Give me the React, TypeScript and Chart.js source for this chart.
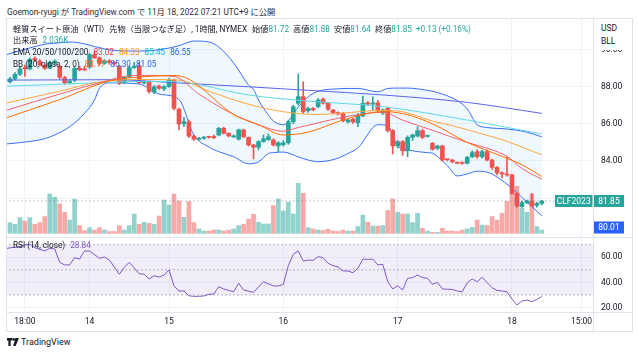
import React, { useEffect, useRef } from "react";
import { Chart, registerables } from "chart.js";

Chart.register(...registerables);

// ---------------- DATA ----------------
const opens = [88.25,88.41,88.66,89.02,88.95,89.52,89.37,89.16,88.98,89.28,
 89.10,88.48,88.21,88.35,88.98,88.95,89.05,89.72,89.55,89.25,
 89.38,89.30,89.10,88.21,88.52,89.02,89.12,88.20,88.26,87.70,
 88.03,87.88,88.00,88.35,86.78,85.99,86.11,85.34,85.17,85.22,
 85.28,85.32,85.40,85.76,85.49,85.30,85.18,85.67,85.27,84.86,
 84.74,85.04,85.15,85.13,84.81,84.88,84.98,86.11,87.10,87.46,
 86.70,86.82,86.92,87.32,87.10,86.74,86.60,86.56,86.10,86.24,
 86.06,86.42,87.13,87.06,87.12,86.58,86.83,85.63,84.81,85.04,
 84.55,85.27,85.34,85.63,85.32,84.95,84.68,84.81,84.10,84.05,
 83.93,83.90,83.88,84.23,84.50,84.23,84.50,84.05,83.66,83.37,
 83.30,83.25,82.26,81.54,81.76,81.83,81.62,81.72];
const highs = [88.50,88.75,89.05,89.15,89.55,89.60,89.45,89.22,89.38,89.45,
 89.15,88.55,88.40,89.05,89.10,89.10,89.80,89.90,89.60,89.45,
 89.45,89.35,89.15,88.55,89.10,89.30,89.30,88.32,88.30,88.05,
 88.08,88.05,88.45,88.40,86.85,86.35,86.20,85.40,85.27,85.33,
 85.33,85.40,85.80,85.82,85.52,85.40,85.72,85.72,85.30,84.90,
 85.10,85.40,85.45,85.20,85.05,85.10,86.20,87.00,88.68,88.26,
 86.90,86.88,87.35,87.40,87.15,86.78,86.65,86.60,86.25,86.30,
 86.55,87.49,87.20,87.45,87.25,86.80,86.90,85.70,85.10,85.10,
 85.35,85.45,85.84,85.70,85.40,85.00,84.85,84.85,84.12,84.10,
 83.95,83.95,84.25,84.55,84.60,84.58,84.60,84.10,83.70,83.42,
 84.23,83.30,82.30,81.85,81.90,82.26,81.78,81.88];
const lows = [88.20,88.36,88.60,88.55,88.90,89.35,89.10,88.92,88.95,89.15,
 88.40,88.12,88.15,88.25,88.85,88.85,88.98,89.50,89.15,89.20,
 89.20,89.15,88.10,88.15,88.48,88.98,88.15,88.15,87.65,87.62,
 87.85,87.78,87.95,86.75,85.67,85.85,85.25,85.10,85.12,85.18,
 85.22,85.20,85.35,85.45,85.30,85.25,85.12,85.25,84.80,84.11,
 84.60,85.00,85.10,84.80,84.50,84.80,84.90,86.00,87.00,86.55,
 86.62,86.70,86.85,87.05,86.72,86.55,86.48,86.10,86.05,86.02,
 85.84,86.38,87.00,86.75,86.65,86.50,85.55,84.38,84.70,84.30,
 84.23,85.10,85.30,85.20,85.28,84.58,84.62,84.00,84.00,83.90,
 83.85,83.82,83.84,84.18,84.15,84.15,84.00,83.55,83.25,83.10,
 83.18,82.20,81.52,81.50,81.70,81.55,81.52,81.64];
const closes = [88.41,88.66,88.95,88.95,89.47,89.43,89.16,88.98,89.30,89.36,
 88.50,88.21,88.30,88.98,88.90,88.90,89.72,89.55,89.25,89.38,
 89.30,89.22,88.18,88.50,89.02,89.10,88.21,88.26,87.73,87.99,
 87.91,88.00,88.35,86.83,85.99,86.11,85.34,85.17,85.22,85.28,
 85.27,85.25,85.76,85.49,85.35,85.34,85.67,85.31,84.86,84.74,
 85.04,85.20,85.31,84.86,84.98,84.98,86.11,86.92,87.46,86.65,
 86.83,86.75,87.28,87.10,86.78,86.60,86.53,86.17,86.20,86.10,
 86.47,87.10,87.06,87.12,86.74,86.74,85.63,84.81,85.04,84.55,
 85.27,85.40,85.63,85.27,85.34,84.63,84.81,84.05,84.07,83.96,
 83.88,83.88,84.20,84.45,84.23,84.50,84.05,83.66,83.37,83.30,
 83.25,82.26,81.58,81.76,81.85,81.58,81.72,81.85];
// volume in thousands
const volumes = [6.6,5.6,9.7,7.6,9.7,5.6,6.6,10.4,24.4,22.3,
 18.2,13.0,8.2,21.1,4.8,1.7,3.5,2.0,3.5,2.0,
 1.1,1.1,4.8,2.0,4.8,12.0,5.6,6.8,6.2,5.6,
 10.7,20.6,17.5,24.4,20.0,9.9,19.7,6.6,2.7,1.4,
 1.4,2.0,2.0,1.4,2.0,2.7,4.8,5.6,8.9,11.8,
 6.8,5.8,5.8,17.2,21.3,13.8,19.2,12.0,31.0,24.8,
 3.5,2.7,2.0,1.7,2.5,1.4,1.1,2.0,1.4,1.4,
 4.2,11.3,6.8,4.5,4.5,4.8,14.1,21.3,13.0,12.0,
 12.0,6.6,12.4,3.1,1.4,0.6,0.6,3.1,1.4,1.4,
 1.1,2.0,2.7,3.7,8.2,5.1,4.8,10.4,8.2,12.4,
 19.8,24.8,29.1,15.5,13.0,24.2,4.2,2.036];

const bbIdx = [-1,4,7,9,12,15,17,18,20,26,30,34,37,40,42,45,48,49,50,52,53,55,58,60,62,66,68,70,74,76,78,80,84,85,87,88,90,92,94,96,100,104,107];
const bbUpper = [89.70,90.08,90.28,90.33,90.40,90.30,90.15,90.10,89.97,89.91,89.98,90.20,90.45,90.40,90.13,89.27,88.09,87.85,87.28,86.47,86.15,85.95,86.90,87.45,87.75,87.88,87.90,87.90,87.72,87.90,87.92,87.92,87.80,87.75,87.60,87.50,87.25,86.80,85.95,85.80,85.72,85.55,85.30];
const bbLower = [84.91,85.05,85.20,85.40,85.84,86.56,87.28,87.90,88.20,88.14,87.60,87.30,85.40,84.75,84.50,84.23,83.85,83.87,83.95,84.40,84.45,84.48,84.22,84.05,83.96,84.15,84.40,84.70,85.95,85.90,84.80,84.60,84.45,84.42,84.00,83.75,83.20,83.30,83.45,83.40,82.75,81.80,81.05];
const bbBasisIdx = [-1,10,20,28,33,36,45,50,55,60,67,75,79,85,92,99,103,107];
const bbBasis = [86.30,87.30,88.30,88.55,88.60,88.40,86.50,85.95,85.40,85.55,86.20,86.65,86.55,86.00,85.00,84.25,83.80,83.17];

const ema20Idx = [-1,10,18,25,33,38,45,50,55,58,62,67,75,79,85,92,97,100,103,107];
const ema20 = [86.70,87.60,88.20,88.60,88.55,87.60,86.50,85.95,85.60,85.80,86.05,86.35,86.62,86.20,85.65,85.00,84.60,84.25,83.60,83.02];
const ema50Idx = [-1,10,18,28,34,40,48,55,62,75,79,85,89,95,99,103,107];
const ema50 = [87.10,87.75,88.25,88.38,88.35,87.75,87.05,86.65,86.50,86.72,86.65,86.15,85.90,85.45,85.15,84.75,84.33];
const ema100Idx = [-1,15,28,34,48,60,75,92,107];
const ema100 = [88.02,88.18,88.28,88.25,87.55,87.22,86.92,86.20,85.45];
const ema200Idx = [-1,20,35,48,60,75,92,107];
const ema200 = [88.35,88.37,88.18,87.99,87.80,87.55,87.15,86.56];

const rsiIdx = [-1,0,2,3,4,5,7,8,9,10,11,12,13,14,15,16,18,19,20,22,23,24,26,27,28,29,30,31,32,33,34,35,36,37,38,39,40,41,42,43,45,46,47,49,51,53,54,55,56,57,58,59,60,61,62,63,64,65,66,67,68,69,70,71,72,73,74,75,76,77,78,79,80,81,82,83,84,85,86,87,88,89,90,91,92,93,94,95,96,97,98,99,100,101,102,103,104,105,106,107];
const rsiVal = [66.8,67.5,68.4,69.8,70.5,67.6,65.0,67.1,66.6,56.0,53.9,53.9,59.7,58.6,65.0,65.0,59.2,60.2,57.8,46.5,52.0,56.0,46.9,46.5,42.7,45.3,44.3,45.9,49.9,37.2,33.2,33.2,29.4,28.9,29.0,29.2,30.5,30.8,36.6,34.8,32.6,39.3,34.0,32.1,40.6,37.2,37.2,38.5,53.3,62.4,65.0,57.0,57.8,57.5,60.5,59.7,55.2,53.3,52.5,49.1,49.1,47.7,51.2,58.6,58.3,58.6,53.9,54.4,40.6,34.8,37.4,34.0,43.3,43.8,45.9,43.8,43.3,38.5,40.1,34.8,34.6,34.4,33.2,32.6,39.8,42.7,40.6,44.1,39.8,35.8,33.6,33.2,32.6,26.8,22.1,25.2,26.0,24.7,26.5,28.84];
const rsiBands = [70, 50, 30];

const timeTickIdx = [3, 16, 32, 55, 78, 101, 115];
const timeTickLabels = ["18:00", "14", "15", "16", "17", "18", "15:00"];
const priceTicks = [82, 84, 86, 88, 90];
const priceTickLabels = ["", "84.00", "86.00", "88.00", "90.00"];
const rsiTicks = [20, 40, 60];
const symbolLabel = "CLF2023";
const blueLabelValue = 80.01;

// ---------------- layout constants ----------------
const X_MIN = -0.604, X_MAX = 117.304;
const P_MIN = 79.914, P_MAX = 91.634;
const V_MIN = -2.29, V_MAX = 132.87;
const R_MIN = 16.48, R_MAX = 76.12;
const FONT = "Roboto, 'Noto Sans CJK JP', sans-serif";
const GRID = "#f0f3fa";
const UP = "#26a69a", DOWN = "#ef5350";
const TXT = "#131722";

const lineDs = (idx: number[], vals: number[], color: string, extra: any = {}) => ({
  type: "line",
  data: idx.map((x, k) => ({ x, y: vals[k] })),
  borderColor: color,
  borderWidth: 1,
  pointRadius: 0,
  fill: false,
  cubicInterpolationMode: "monotone",
  order: 1,
  ...extra,
});

const priceLabelPlugin = {
  id: "priceLabels",
  afterDraw(chart: any) {
    const { ctx, chartArea, scales } = chart;
    const ys = scales.y;
    const last = closes[closes.length - 1];
    const yy = ys.getPixelForValue(last);
    const axL = chartArea.right;
    ctx.save();
    ctx.font = "8.5px Roboto";
    ctx.textBaseline = "middle";
    ctx.textAlign = "center";
    ctx.fillStyle = UP;
    ctx.fillRect(axL - 38, yy - 6, 37.5, 12);
    ctx.fillRect(axL + 1, yy - 6, 30, 12);
    ctx.fillStyle = "#ffffff";
    ctx.fillText(symbolLabel, axL - 19.3, yy + 0.5);
    ctx.fillText(last.toFixed(2), axL + 16, yy + 0.5);
    const by = Math.min(ys.getPixelForValue(blueLabelValue), chartArea.bottom - 9.5);
    ctx.fillStyle = "#2962ff";
    ctx.fillRect(axL + 1, by - 6, 30, 12);
    ctx.fillStyle = "#ffffff";
    ctx.fillText(blueLabelValue.toFixed(2), axL + 16, by + 0.5);
    ctx.restore();
  },
};

function mainConfig(): any {
  const idx = opens.map((_, i) => i);
  const up = (i: number) => closes[i] >= opens[i];
  const last = closes[closes.length - 1];
  return {
    type: "bar",
    data: {
      datasets: [
        {
          type: "bar",
          yAxisID: "yVol",
          data: idx.map((i) => ({ x: i, y: volumes[i] })),
          backgroundColor: idx.map((i) => (up(i) ? "rgba(38,166,154,0.5)" : "rgba(239,83,80,0.5)")),
          barThickness: 4,
          grouped: false,
          borderWidth: 0,
          order: 20,
        },
        lineDs(bbIdx, bbUpper, "#3f6cf7", { fill: "+1", backgroundColor: "rgba(33,150,243,0.07)", order: 10 }),
        lineDs(bbIdx, bbLower, "#3f6cf7", { order: 10 }),
        lineDs(bbBasisIdx, bbBasis, "#ff6d00"),
        lineDs(ema20Idx, ema20, "#f5606b"),
        lineDs(ema50Idx, ema50, "#ffa53d"),
        lineDs(ema100Idx, ema100, "#5fd8e8"),
        lineDs(ema200Idx, ema200, "#5b62ee"),
        {
          type: "line",
          data: [{ x: -1, y: last }, { x: 118, y: last }],
          borderColor: "rgba(120,123,134,0.45)",
          borderWidth: 1,
          borderDash: [2, 2],
          pointRadius: 0,
          fill: false,
          order: 2,
        },
        {
          type: "bar",
          data: idx.map((i) => ({ x: i, y: [lows[i], highs[i]] })),
          backgroundColor: idx.map((i) => (up(i) ? UP : DOWN)),
          barThickness: 1,
          grouped: false,
          borderWidth: 0,
          order: 4,
        },
        {
          type: "bar",
          data: idx.map((i) => ({ x: i, y: [opens[i], closes[i]] })),
          backgroundColor: idx.map((i) => (up(i) ? UP : DOWN)),
          barThickness: 4,
          minBarLength: 1,
          grouped: false,
          borderWidth: 0,
          order: 3,
        },
      ],
    },
    options: {
      responsive: false,
      animation: false,
      devicePixelRatio: 1,
      events: [],
      layout: { padding: 0 },
      plugins: { legend: { display: false }, tooltip: { enabled: false } },
      scales: {
        x: {
          type: "linear",
          min: X_MIN,
          max: X_MAX,
          offset: false,
          afterBuildTicks: (s: any) => { s.ticks = timeTickIdx.map((v) => ({ value: v })); },
          afterFit: (s: any) => { s.height = 0; s.paddingLeft = 0; s.paddingRight = 0; },
          ticks: { display: false },
          grid: { color: GRID, drawTicks: false, offset: false },
          border: { display: false },
        },
        y: {
          type: "linear",
          position: "right",
          min: P_MIN,
          max: P_MAX,
          afterBuildTicks: (s: any) => { s.ticks = priceTicks.map((v) => ({ value: v })); },
          afterFit: (s: any) => { s.width = 39; s.paddingTop = 0; s.paddingBottom = 0; },
          ticks: {
            font: { family: "Roboto", size: 8.5 },
            color: TXT,
            padding: 8,
            crossAlign: "near",
            callback: (v: any) => {
              const k = priceTicks.indexOf(Number(v));
              return k >= 0 ? priceTickLabels[k] : "";
            },
          },
          grid: { color: GRID, drawTicks: false },
          border: { display: false },
        },
        yVol: { type: "linear", display: false, min: V_MIN, max: V_MAX },
      },
    },
    plugins: [priceLabelPlugin],
  };
}

function rsiConfig(): any {
  const bandDs = (v: number, extra: any = {}) => ({
    type: "line",
    data: [{ x: -1, y: v }, { x: 118, y: v }],
    borderColor: "rgba(120,123,134,0.55)",
    borderWidth: 1,
    borderDash: [2, 2],
    pointRadius: 0,
    fill: false,
    order: 5,
    ...extra,
  });
  return {
    type: "line",
    data: {
      datasets: [
        bandDs(rsiBands[0], { fill: "+2", backgroundColor: "rgba(126,87,194,0.1)" }),
        bandDs(rsiBands[1]),
        bandDs(rsiBands[2]),
        {
          type: "line",
          data: rsiIdx.map((x, k) => ({ x, y: rsiVal[k] })),
          borderColor: "#7e57c2",
          borderWidth: 1,
          pointRadius: 0,
          fill: false,
          order: 1,
        },
      ],
    },
    options: {
      responsive: false,
      animation: false,
      devicePixelRatio: 1,
      events: [],
      layout: { padding: 0 },
      plugins: { legend: { display: false }, tooltip: { enabled: false } },
      scales: {
        x: {
          type: "linear",
          min: X_MIN,
          max: X_MAX,
          offset: false,
          afterBuildTicks: (s: any) => { s.ticks = timeTickIdx.map((v) => ({ value: v })); },
          afterFit: (s: any) => { s.height = 19; s.paddingLeft = 0; s.paddingRight = 0; },
          ticks: {
            font: { family: "Roboto", size: 8.5 },
            color: TXT,
            padding: 5,
            autoSkip: false,
            maxRotation: 0,
            callback: (v: any) => {
              const k = timeTickIdx.indexOf(Number(v));
              return k >= 0 ? timeTickLabels[k] : "";
            },
          },
          grid: { color: GRID, drawTicks: false, offset: false },
          border: { display: false },
        },
        y: {
          type: "linear",
          position: "right",
          min: R_MIN,
          max: R_MAX,
          afterBuildTicks: (s: any) => { s.ticks = rsiTicks.map((v) => ({ value: v })); },
          afterFit: (s: any) => { s.width = 39; s.paddingTop = 0; s.paddingBottom = 0; },
          ticks: {
            font: { family: "Roboto", size: 8.5 },
            color: TXT,
            padding: 8,
            crossAlign: "near",
            callback: (v: any) => Number(v).toFixed(2),
          },
          grid: { color: GRID, drawTicks: false },
          border: { display: false },
        },
      },
    },
  };
}

const V = ({ c, children, ml = 0 }: any) => <span style={{ color: c, marginLeft: ml }}>{children}</span>;

export default function App() {
  const mainRef = useRef<HTMLCanvasElement>(null);
  const rsiRef = useRef<HTMLCanvasElement>(null);

  useEffect(() => {
    const m = new Chart(mainRef.current as HTMLCanvasElement, mainConfig());
    const r = new Chart(rsiRef.current as HTMLCanvasElement, rsiConfig());
    return () => {
      m.destroy();
      r.destroy();
    };
  }, []);

  const line = (s: any) => <div style={{ position: "absolute", background: "#e0e3eb", ...s }} />;
  const G = UP;

  return (
    <div style={{ position: "fixed", left: 0, top: 0, width: 639, height: 356, background: "#fff", fontFamily: FONT, color: TXT, overflow: "hidden" }}>
      <div style={{ position: "absolute", left: 7, top: 5.5, fontSize: 8.3, lineHeight: "12px", whiteSpace: "nowrap", color: "#2a2e39" }}>
        Goemon-ryugi が TradingView.com で 11月 18, 2022 07:21 UTC+9 に公開
      </div>

      <div style={{ position: "absolute", left: 6, top: 18, width: 627, height: 314, border: "1px solid #e0e3eb", boxSizing: "border-box" }} />

      <canvas ref={mainRef} width={625} height={218} style={{ position: "absolute", left: 7, top: 19, width: 625, height: 218, display: "block" }} />
      <canvas ref={rsiRef} width={625} height={94} style={{ position: "absolute", left: 7, top: 237, width: 625, height: 94, display: "block" }} />

      {line({ left: 7, top: 237, width: 625, height: 1 })}
      {line({ left: 7, top: 312, width: 625, height: 1 })}
      {line({ left: 593, top: 19, width: 1, height: 312 })}

      <div style={{ position: "absolute", left: 594, top: 19, width: 38, height: 31, background: "#fff", fontSize: 8.5, lineHeight: "13px", paddingLeft: 7, boxSizing: "border-box", paddingTop: 3 }}>
        <div>USD</div>
        <div>BLL</div>
      </div>

      <div style={{ position: "absolute", left: 13, top: 23.5, fontSize: 8.2, lineHeight: "11.8px", whiteSpace: "nowrap" }}>
        <div>
          軽質スイート原油（WTI）先物（当限つなぎ足）, 1時間, NYMEX
          <V ml={5}>始値</V><V c={G}>81.72</V>
          <V ml={4}>高値</V><V c={G}>81.88</V>
          <V ml={4}>安値</V><V c={G}>81.64</V>
          <V ml={4}>終値</V><V c={G}>81.85</V>
          <V ml={4} c={G}>+0.13 (+0.16%)</V>
        </div>
        <div>
          出来高<V ml={5} c={G}>2.036K</V>
        </div>
        <div>
          EMA 20/50/100/200
          <V ml={5} c="#f23645">83.02</V>
          <V ml={5} c="#ff9800">84.33</V>
          <V ml={5} c="#00bcd4">85.45</V>
          <V ml={5} c="#2962ff">86.55</V>
        </div>
        <div>
          BB (20, close, 2, 0)
          <V ml={5} c="#ff6d00">83.17</V>
          <V ml={5} c="#2962ff">85.30</V>
          <V ml={5} c="#2962ff">81.05</V>
        </div>
      </div>

      <div style={{ position: "absolute", left: 13, top: 238.5, fontSize: 8.2, lineHeight: "12px", whiteSpace: "nowrap" }}>
        RSI (14, close)<V ml={5} c="#7e57c2">28.84</V>
      </div>

      <div style={{ position: "absolute", left: 7, top: 337, display: "flex", alignItems: "center", whiteSpace: "nowrap" }}>
        <svg width="12" height="8" viewBox="0 0 12 8" style={{ display: "block" }}>
          <path d="M0 0h5v2.6H3.6V8H1.4V2.6H0z" fill="#131722" />
          <circle cx="6.6" cy="1.4" r="1.3" fill="#131722" />
          <path d="M8.4 0h3.6L8.6 8H6.2z" fill="#131722" />
        </svg>
        <span style={{ marginLeft: 2, fontSize: 9, color: "#131722" }}>TradingView</span>
      </div>
    </div>
  );
}
